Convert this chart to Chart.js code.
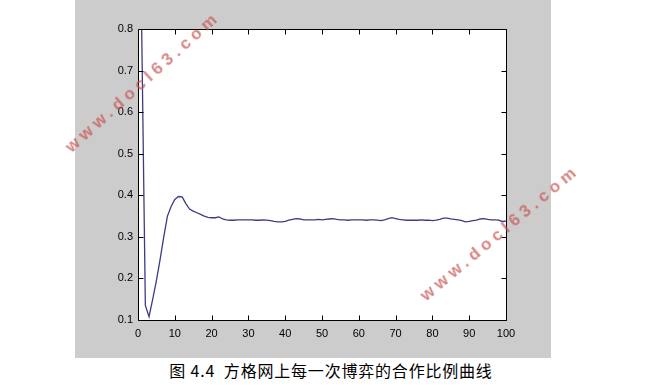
<!DOCTYPE html>
<html>
<head>
<meta charset="utf-8">
<script src="https://cdn.jsdelivr.net/npm/chart.js@4/dist/chart.umd.min.js"></script>
<style>
  html, body { margin: 0; padding: 0; background: #ffffff; }
  body { width: 666px; height: 387px; position: relative; overflow: hidden; }
  #panel { position: absolute; left: 75px; top: 0px; width: 476px; height: 358px; background: #cccccc; }
  #chart { display: block; }
  .wm { position: absolute; font-family: "Liberation Sans", Arial, sans-serif; font-weight: bold;
        font-size: 17px; letter-spacing: 4.6px; color: rgba(200, 80, 80, 0.7); white-space: nowrap;
        transform: translate(-50%, -50%) rotate(-42deg); transform-origin: 50% 50%; }
  #caption { position: absolute; left: 0; width: 662px; top: 361px; text-align: center;
             font-family: "Noto Sans CJK SC", sans-serif; font-size: 16px; line-height: 18px;
             letter-spacing: 0.8px; color: #000; white-space: nowrap; }
</style>
</head>
<body>
<div id="panel"><canvas id="chart" width="476" height="358"></canvas></div>
<div class="wm" style="left:143px; top:82px;">www.docl63.com</div>
<div class="wm" style="left:500px; top:233px; transform: translate(-50%, -50%) rotate(-40deg);">www.docl63.com</div>
<div id="caption">图 4.4&nbsp; 方格网上每一次博弈的合作比例曲线</div>
<script>
// Round number (game iteration) -> cooperation ratio
const rounds = [
  1, 2, 3, 4, 5, 6, 7, 8, 9, 10,
  11, 12, 13, 14, 15, 16, 17, 18, 19, 20,
  21, 22, 23, 24, 25, 26, 27, 28, 29, 30,
  31, 32, 33, 34, 35, 36, 37, 38, 39, 40,
  41, 42, 43, 44, 45, 46, 47, 48, 49, 50,
  51, 52, 53, 54, 55, 56, 57, 58, 59, 60,
  61, 62, 63, 64, 65, 66, 67, 68, 69, 70,
  71, 72, 73, 74, 75, 76, 77, 78, 79, 80,
  81, 82, 83, 84, 85, 86, 87, 88, 89, 90,
  91, 92, 93, 94, 95, 96, 97, 98, 99, 100
];
const cooperationRatio = [
  0.800, 0.135, 0.108, 0.150, 0.195, 0.245, 0.300, 0.350, 0.373, 0.390,
  0.397, 0.396, 0.380, 0.367, 0.362, 0.358, 0.354, 0.350, 0.347, 0.346,
  0.346, 0.348, 0.343, 0.341, 0.340, 0.340, 0.341, 0.341, 0.341, 0.341,
  0.341, 0.340, 0.340, 0.341, 0.340, 0.339, 0.337, 0.336, 0.336, 0.337,
  0.340, 0.342, 0.344, 0.343, 0.341, 0.341, 0.341, 0.341, 0.342, 0.341,
  0.342, 0.343, 0.344, 0.342, 0.341, 0.341, 0.340, 0.341, 0.341, 0.341,
  0.341, 0.340, 0.341, 0.341, 0.340, 0.339, 0.341, 0.344, 0.346, 0.344,
  0.342, 0.341, 0.340, 0.340, 0.340, 0.340, 0.341, 0.340, 0.340, 0.339,
  0.340, 0.342, 0.345, 0.345, 0.343, 0.342, 0.341, 0.339, 0.336, 0.337,
  0.339, 0.340, 0.343, 0.344, 0.342, 0.341, 0.341, 0.340, 0.337, 0.338
];
const xTickValues = [0, 10, 20, 30, 40, 50, 60, 70, 80, 90, 100];
const yTickValues = [0.1, 0.2, 0.3, 0.4, 0.5, 0.6, 0.7, 0.8];

const points = rounds.map((r, i) => ({ x: r, y: cooperationRatio[i] }));

const boxPlugin = {
  id: 'matlabBox',
  beforeDraw(chart) {
    const { ctx, chartArea: a } = chart;
    ctx.save();
    ctx.fillStyle = '#ffffff';
    ctx.fillRect(a.left, a.top, a.right - a.left, a.bottom - a.top);
    ctx.restore();
  },
  afterDraw(chart) {
    const { ctx, chartArea: a, scales } = chart;
    const L = Math.round(a.left) + 0.5, R = Math.round(a.right) + 0.5;
    const T = Math.round(a.top) + 0.5, B = Math.round(a.bottom) + 0.5;
    ctx.save();
    ctx.strokeStyle = '#000000';
    ctx.lineWidth = 1;
    ctx.beginPath();
    ctx.rect(L, T, R - L, B - T);
    const len = 5;
    xTickValues.forEach(v => {
      const px = Math.round(scales.x.getPixelForValue(v)) + 0.5;
      ctx.moveTo(px, B); ctx.lineTo(px, B - len);
      ctx.moveTo(px, T); ctx.lineTo(px, T + len);
    });
    yTickValues.forEach(v => {
      const py = Math.round(scales.y.getPixelForValue(v)) + 0.5;
      ctx.moveTo(L, py); ctx.lineTo(L + len, py);
      ctx.moveTo(R, py); ctx.lineTo(R - len, py);
    });
    ctx.stroke();
    ctx.restore();
  }
};

new Chart(document.getElementById('chart'), {
  type: 'line',
  data: {
    datasets: [{
      data: points,
      borderColor: '#3c3c86',
      borderWidth: 1.3,
      pointRadius: 0,
      tension: 0,
      fill: false
    }]
  },
  options: {
    responsive: false,
    animation: false,
    devicePixelRatio: 1,
    layout: { padding: { top: 29, right: 45, left: 0, bottom: 0 } },
    plugins: { legend: { display: false }, tooltip: { enabled: false } },
    scales: {
      x: {
        type: 'linear', min: 0, max: 100,
        afterFit(s) { s.height = 38; },
        afterBuildTicks(s) { s.ticks = xTickValues.map(v => ({ value: v })); },
        grid: { display: false, drawTicks: false },
        border: { display: false },
        ticks: { padding: 7, color: '#000', maxRotation: 0, font: { family: '"Liberation Sans", Arial, sans-serif', size: 11 },
                 callback: v => String(v) }
      },
      y: {
        type: 'linear', min: 0.1, max: 0.8,
        afterFit(s) { s.width = 63; },
        afterBuildTicks(s) { s.ticks = yTickValues.map(v => ({ value: v })); },
        grid: { display: false, drawTicks: false },
        border: { display: false },
        ticks: { padding: 5, color: '#000', font: { family: '"Liberation Sans", Arial, sans-serif', size: 11 },
                 callback: v => Number(v).toFixed(1) }
      }
    }
  },
  plugins: [boxPlugin]
});
</script>
</body>
</html>
